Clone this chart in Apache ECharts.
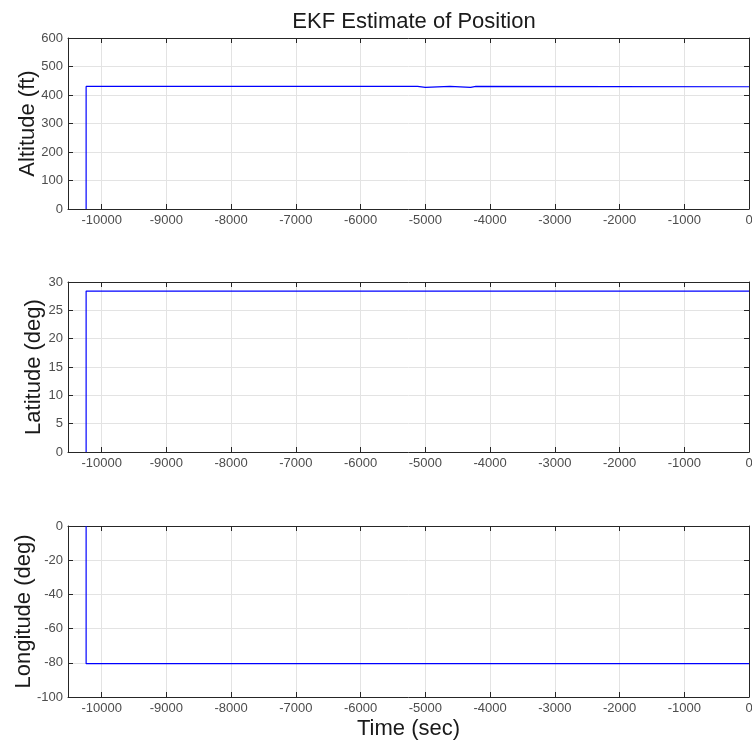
<!DOCTYPE html>
<html>
<head>
<meta charset="utf-8">
<script src="https://cdn.jsdelivr.net/npm/echarts@6/dist/echarts.min.js"></script>
<style>
  html, body { margin: 0; padding: 0; background: #fff; }
  #main { width: 752px; height: 746px; }
</style>
</head>
<body>
<div id="main"></div>
<script>
// values (time in sec)
var altitude = [
    [-10240, 0], [-10240, 430], [-5120, 430], [-5120, 427], [-5000, 427], [-5000, 430],
    [-4620, 430], [-4620, 427], [-4300, 427], [-4300, 430], [-4220, 430], [-4220, 433],
    [-4190, 433], [-4190, 429], [0, 429]
];
var latitude = [[-10240, 0], [-10240, 28.4], [0, 28.4]];
var longitude = [[-10240, 0], [-10240, -80.5], [0, -80.5]];

var yNames = ['Altitude (ft)', 'Latitude (deg)', 'Longitude (deg)'];
var yMin = [0, 0, -100];
var yMax = [600, 30, 0];
var yStep = [100, 5, 20];
var tMin = -10520, tMax = 0;

var myChart = echarts.init(document.getElementById('main'));

var font = 'Liberation Sans, Arial, Helvetica, sans-serif';
var tops = [38, 282, 526];
var heights = [171, 170, 171];
var nameGaps = [29, 23, 33];
var grids = [], xAxes = [], yAxes = [], series = [];
var datas = [altitude, latitude, longitude];

for (var i = 0; i < 3; i++) {
    grids.push({
        left: 68, right: 3, top: tops[i], height: heights[i], show: false,
        containLabel: false, outerBoundsMode: 'none'
    });
    var tick = {inside: true, length: 5, lineStyle: {color: '#262626'}};
    var line = {show: true, onZero: false, lineStyle: {color: '#262626', width: 1}};
    xAxes.push({
        type: 'value', gridIndex: i, min: tMin, max: tMax, splitNumber: 10,
        axisLine: line, axisTick: tick,
        axisLabel: {
            color: '#4d4d4d', fontSize: 13, fontFamily: font, margin: 5, showMinLabel: false,
            formatter: function (v) { return String(v); }
        },
        splitLine: {show: true, lineStyle: {color: '#e3e3e3'}},
        name: i === 2 ? 'Time (sec)' : '', nameLocation: 'middle', nameGap: 21, nameMoveOverlap: false,
        nameTextStyle: {fontSize: 22, color: '#1a1a1a', fontFamily: font, verticalAlign: 'top'}
    });
    xAxes.push({
        type: 'value', gridIndex: i, position: 'top', min: tMin, max: tMax, splitNumber: 10,
        axisLine: line, axisTick: tick, axisLabel: {show: false}, splitLine: {show: false}
    });
    yAxes.push({
        type: 'value', gridIndex: i, min: yMin[i], max: yMax[i], interval: yStep[i],
        axisLine: line, axisTick: tick,
        axisLabel: {color: '#4d4d4d', fontSize: 13, fontFamily: font, margin: 5},
        splitLine: {show: true, lineStyle: {color: '#e3e3e3'}},
        name: yNames[i], nameLocation: 'middle', nameGap: nameGaps[i], nameMoveOverlap: false,
        nameTextStyle: {fontSize: 22, color: '#1a1a1a', fontFamily: font}
    });
    yAxes.push({
        type: 'value', gridIndex: i, position: 'right', min: yMin[i], max: yMax[i], interval: yStep[i],
        axisLine: line, axisTick: tick, axisLabel: {show: false}, splitLine: {show: false}
    });
    series.push({
        type: 'line', xAxisIndex: i * 2, yAxisIndex: i * 2, data: datas[i],
        showSymbol: false, animation: false,
        lineStyle: {color: '#0000ff', width: 1.2}
    });
}

var option = {
    backgroundColor: '#fff',
    animation: false,
    title: {
        text: 'EKF Estimate of Position', left: 409, top: 6, textAlign: 'center',
        textStyle: {fontSize: 22, fontWeight: 'normal', color: '#1a1a1a', fontFamily: font}
    },
    grid: grids,
    xAxis: xAxes,
    yAxis: yAxes,
    series: series
};
myChart.setOption(option);
window.onresize = myChart.resize;
</script>
</body>
</html>
